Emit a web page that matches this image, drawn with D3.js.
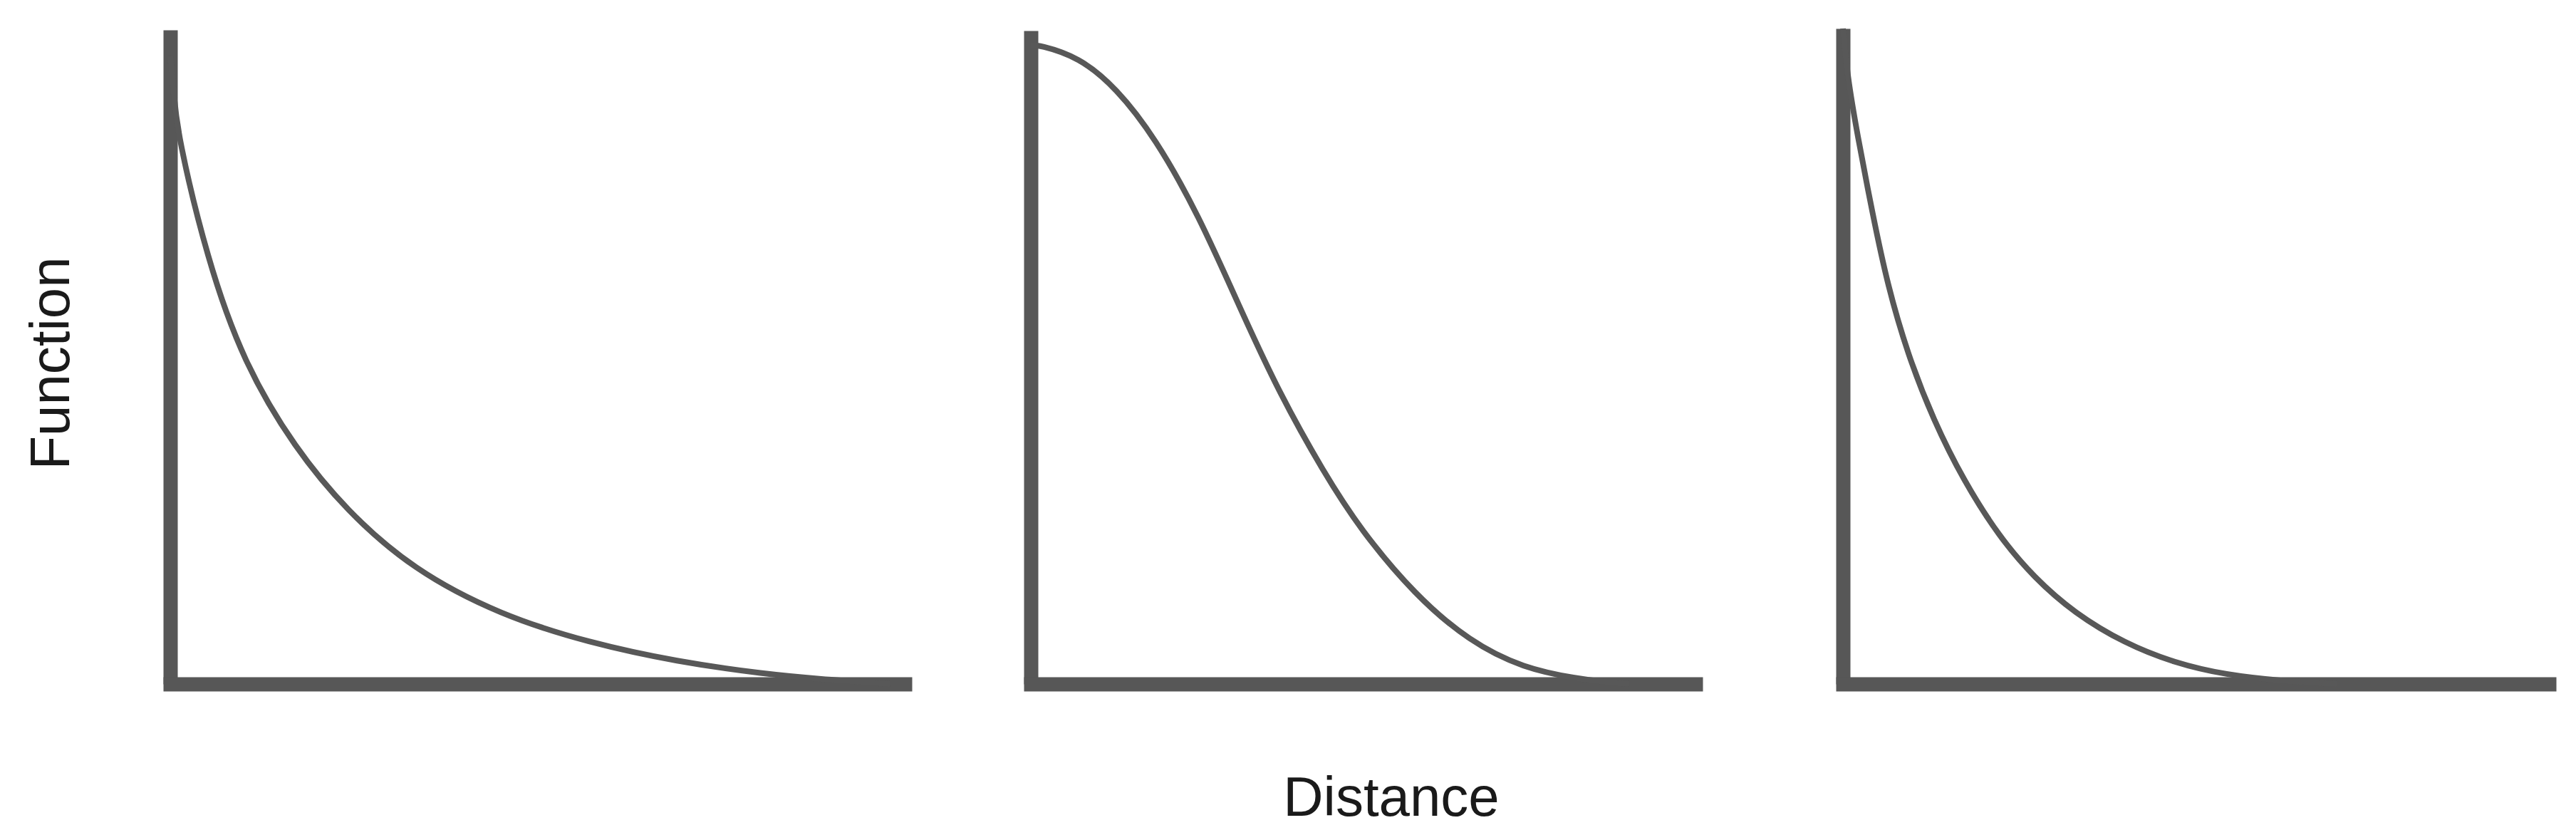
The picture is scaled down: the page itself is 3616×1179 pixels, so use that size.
<!DOCTYPE html>
<html>
<head>
<meta charset="UTF-8">
<title>distance_decay_functions</title>

<style type="text/css">

	body {
		margin: 0;
		background: #ffffff;
	}

	.axis path {
		stroke: #575757;
		stroke-width: 20px;
	}

	.curve {
		fill: none;
		stroke: #585858;
		stroke-width: 8px;
	}

	.label {
		font-family: "Liberation Sans", Arial, sans-serif;
		font-size: 78px;
		fill: #1a1a1a;
	}

</style>

<script type="text/javascript" src="https://cdn.jsdelivr.net/npm/d3@7/dist/d3.min.js" charset="utf-8"></script>

<script type="text/javascript">

	// distance (0..1), one list per panel
	var distance_1 = [0, 0.005, 0.01, 0.05, 0.1, 0.17, 0.24, 0.33, 0.45, 0.57, 0.69, 0.81, 0.89, 0.98];
	var value_1    = [0.96, 0.9, 0.84, 0.65, 0.49, 0.36, 0.265, 0.175, 0.105, 0.063, 0.034, 0.015, 0.007, 0];

	var distance_2 = [0, 0.012, 0.072, 0.129, 0.187, 0.252, 0.317, 0.374, 0.44, 0.496, 0.578, 0.66, 0.741, 0.823, 0.864, 0.9];
	var value_2    = [0.978, 0.978, 0.96, 0.912, 0.836, 0.719, 0.57, 0.445, 0.325, 0.236, 0.136, 0.065, 0.024, 0.008, 0.003, 0];

	var distance_3 = [0, 0.006, 0.02, 0.042, 0.063, 0.092, 0.128, 0.171, 0.221, 0.271, 0.328, 0.399, 0.47, 0.541, 0.627, 0.7];
	var value_3    = [1, 0.93, 0.84, 0.717, 0.609, 0.502, 0.403, 0.31, 0.225, 0.162, 0.108, 0.062, 0.032, 0.014, 0.004, 0];

	var x_label = "Distance";
	var y_label = "Function";

	function draw_panel(svg, distances, values, x_left, x_right, y_top, y_bottom){

		var dataset = distances.map(function (d, i) { return { distance: d, value: values[i] }; });

		// set scale
		var scaleX = d3.scaleLinear()
							.domain([0, 1])
							.range([x_left, x_right - 10]);

		var scaleY = d3.scaleLinear()
							.domain([0, 1])
							.range([y_bottom, y_top]);

		// draw y axis
		var axisY = d3.axisLeft(scaleY).ticks(0).tickSizeOuter(0);

		svg.append("g")
				.attr("class", "y axis")
				.attr("transform", "translate(" + x_left + ",0)")
				.call(axisY)
				.select(".domain")
					.attr("stroke-linecap", "butt");

		// draw x axis
		var axisX = d3.axisBottom(scaleX).ticks(0).tickSizeOuter(0);

		svg.append("g")
				.attr("class", "x axis")
				.attr("transform", "translate(0," + y_bottom + ")")
				.call(axisX)
				.select(".domain")
					.attr("stroke-linecap", "square");

		// draw curve
		var line = d3.line()
						.x(function (d) { return scaleX(d.distance); })
						.y(function (d) { return scaleY(d.value); })
						.curve(d3.curveBasis);

		svg.append("path")
				.datum(dataset)
				.attr("class", "curve")
				.attr("d", line);
	}

	function draw(svg_w, svg_h, id_svg_main){

		var svg = d3.select(id_svg_main)
						.append("svg")
							.attr("width", svg_w)
							.attr("height", svg_h);

		draw_panel(svg, distance_1, value_1, 239, 1280, 42, 960);
		draw_panel(svg, distance_2, value_2, 1447, 2390, 43, 960);
		draw_panel(svg, distance_3, value_3, 2587, 3588, 40, 960);

		// axis labels
		svg.append("text")
				.attr("class", "label")
				.attr("text-anchor", "middle")
				.attr("transform", "translate(97,510) rotate(-90)")
				.text(y_label);

		svg.append("text")
				.attr("class", "label")
				.attr("text-anchor", "middle")
				.attr("x", 1953)
				.attr("y", 1145)
				.text(x_label);
	}

</script>

</head>
<body>

<div id="div_main" style="width: 3616px; height: 1179px;"></div>

<script type="text/javascript">

	draw(3616, 1179, "#div_main");

</script>

</body>
</html>
